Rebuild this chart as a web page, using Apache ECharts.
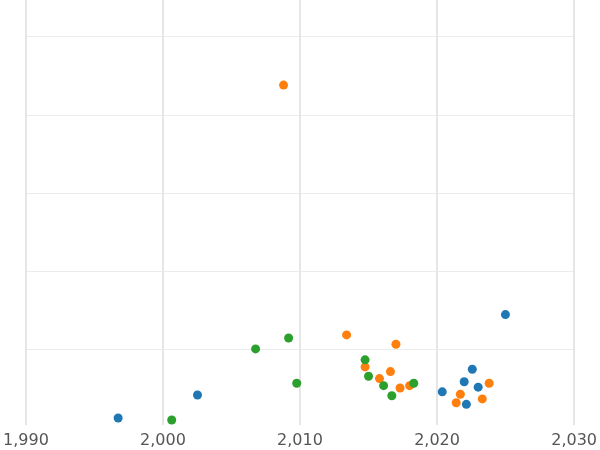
<!DOCTYPE html>
<html>
<head>
<meta charset="utf-8">
<script src="https://cdn.jsdelivr.net/npm/echarts@6/dist/echarts.min.js"></script>
<style>html,body{margin:0;padding:0;background:#fff}#chart{width:600px;height:450px}</style>
</head>
<body>
<div id="chart"></div>
<script>
const blue = [[1996.73, 1.15], [2002.52, 4.1], [2020.38, 4.5], [2021.98, 5.8], [2022.14, 2.9], [2022.57, 7.4], [2023.0, 5.1], [2024.99, 14.4]]
const orange = [[2008.8, 43.8], [2013.4, 11.8], [2014.75, 7.7], [2015.8, 6.2], [2016.6, 7.1], [2017.0, 10.6], [2017.3, 5.0], [2018.0, 5.3], [2021.4, 3.1], [2021.7, 4.2], [2023.3, 3.6], [2023.8, 5.6]]
const green = [[2000.64, 0.9], [2006.76, 10.0], [2009.17, 11.4], [2009.76, 5.6], [2014.75, 8.6], [2015.0, 6.5], [2016.1, 5.3], [2016.7, 4.0], [2018.3, 5.6]]

const chart = echarts.init(document.getElementById('chart'))
const series = [['blue', blue, '#1f77b4'], ['orange', orange, '#ff7f0e'], ['green', green, '#2ca02c']].map(([name, data, color]) => ({
  name,
  type: 'scatter',
  data,
  symbolSize: 9,
  z: 5,
  itemStyle: { color, opacity: 1 }
}))
// x range 1994.75..2026.9 is visible; the axis runs 1990..2030 so ticks land on decades
chart.setOption({
  animation: false,
  grid: { left: -89, right: -58, top: 0, bottom: 23, containLabel: false },
  xAxis: {
    type: 'value',
    min: 1990,
    max: 2030,
    interval: 10,
    axisLine: { show: false },
    axisTick: { show: false },
    axisLabel: { color: '#555', fontSize: 16, fontFamily: 'DejaVu Sans', margin: 6 },
    splitLine: { show: true, lineStyle: { color: '#e6e6e6', width: 2 } }
  },
  yAxis: {
    type: 'value',
    min: 0,
    max: 54.7,
    interval: 10,
    axisLine: { show: false },
    axisTick: { show: false },
    axisLabel: { show: false },
    splitLine: { show: true, showMinLine: false, showMaxLine: false, lineStyle: { color: '#ebebeb', width: 1 } }
  },
  graphic: [{ type: 'rect', left: 0, top: 425, shape: { width: 600, height: 4 }, style: { fill: '#fff' }, z: 1 }],
  series
})
</script>
</body>
</html>
